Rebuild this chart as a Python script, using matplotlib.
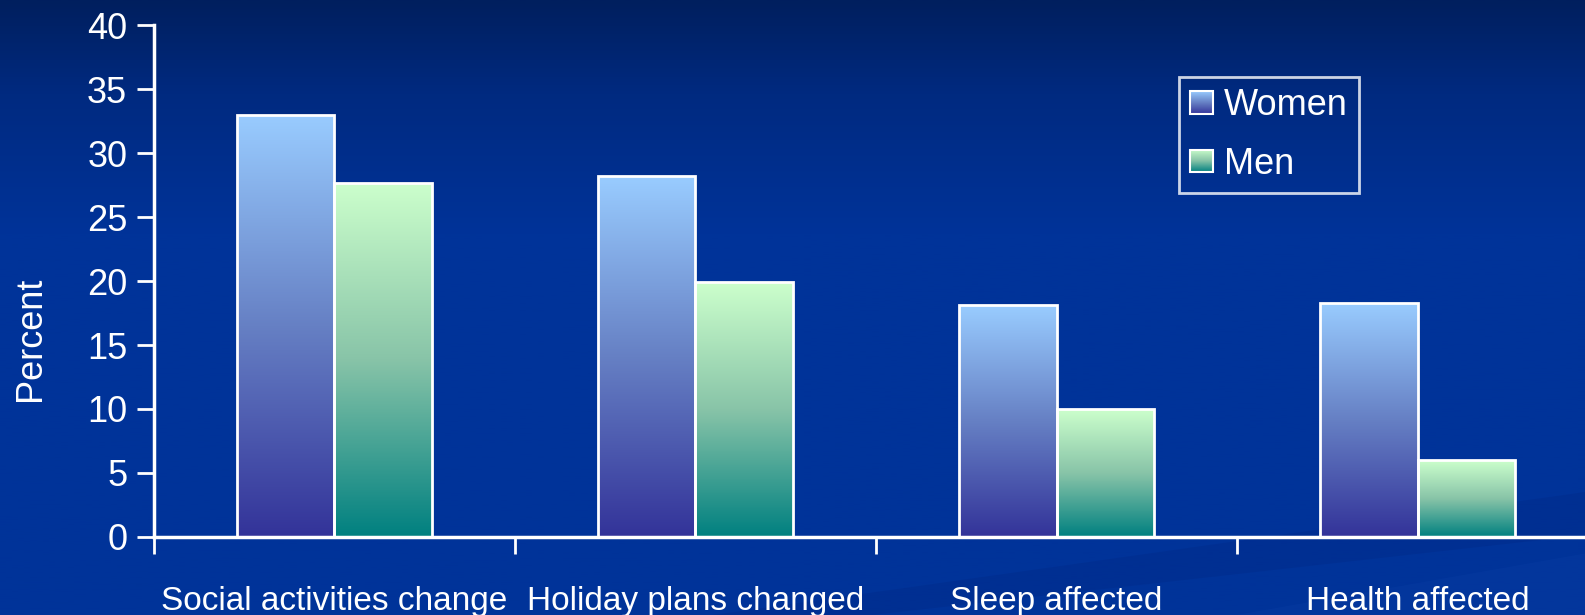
import matplotlib.pyplot as plt
import numpy as np
from matplotlib.colors import LinearSegmentedColormap
from matplotlib.legend_handler import HandlerBase
from matplotlib.image import BboxImage
from matplotlib.patches import Rectangle, Polygon
from matplotlib.transforms import Bbox, TransformedBbox

plt.rcParams['font.family'] = ['Liberation Sans Narrow', 'Liberation Sans', 'DejaVu Sans']

# Share of respondents reporting each effect
categories = ['Social activities change', 'Holiday plans changed', 'Sleep affected', 'Health affected']
women = [33.0, 28.2, 18.1, 18.3]
men = [27.7, 19.9, 10.0, 6.0]
series_names = ['Women', 'Men']

women_cmap = LinearSegmentedColormap.from_list('women', ['#333399', '#6680c4', '#99ccff'])
men_cmap = LinearSegmentedColormap.from_list('men', ['#008080', '#88c4a8', '#ccffcc'])
grad = np.linspace(0, 1, 256).reshape(-1, 1)

fig = plt.figure(figsize=(15.85, 6.15), dpi=100)

# slide-style background: dark navy at the top fading into royal blue
bg = fig.add_axes([0, 0, 1, 1], zorder=-10)
bg_cmap = LinearSegmentedColormap.from_list('bg', [(0, '#003399'), (0.62, '#003399'),
                                                   (0.85, '#002a80'), (1, '#001f5e')])
bg.imshow(grad, cmap=bg_cmap, aspect='auto', extent=[0, 1, 0, 1], origin='lower')
bg.add_patch(Polygon([[0.45, 0], [1, 0.2], [1, 0.13], [0.55, 0]], closed=True,
                     facecolor='#002a88', alpha=0.4, edgecolor='none'))
bg.add_patch(Polygon([[0.78, 0], [1, 0.1], [1, 0.0]], closed=True,
                     facecolor='#0a3fa6', alpha=0.3, edgecolor='none'))
bg.set_xlim(0, 1)
bg.set_ylim(0, 1)
bg.axis('off')

ax = fig.add_axes([0.0969, 0.127, 0.9116, 0.832])
ax.patch.set_alpha(0)

x = np.arange(len(categories))
w = 0.27
bars_w = ax.bar(x - w / 2, women, w, facecolor='none', edgecolor='white', linewidth=2, zorder=3)
bars_m = ax.bar(x + w / 2, men, w, facecolor='none', edgecolor='white', linewidth=2, zorder=3)

# fill every bar with a vertical gradient, light at the top
for bars, cmap in [(bars_w, women_cmap), (bars_m, men_cmap)]:
    for b in bars:
        x0, y0 = b.get_x(), b.get_y()
        im = ax.imshow(grad, cmap=cmap, aspect='auto', origin='lower', zorder=2,
                       extent=[x0, x0 + b.get_width(), y0, y0 + b.get_height()])
        im.set_clip_path(b)

ax.set_xlim(-0.5, 3.5)
ax.set_ylim(0, 40)
ax.set_yticks(range(0, 41, 5))
ax.set_xticks(x)
ax.set_xticklabels(categories)
ax.set_xticks(np.arange(-0.5, 3.6, 1), minor=True)
ax.tick_params(axis='x', which='major', length=0, pad=35, labelsize=24, labelcolor='white')
ax.tick_params(axis='x', which='minor', length=12, width=2, color='white', direction='out')
ax.tick_params(axis='y', length=12, width=2, color='white', pad=7, labelsize=26,
               labelcolor='white', direction='out')
for s in ['top', 'right']:
    ax.spines[s].set_visible(False)
for s in ['left', 'bottom']:
    ax.spines[s].set_color('white')
    ax.spines[s].set_linewidth(2.5)

fig.text(0.0195, 0.449, 'Percent', rotation=90, color='white', fontsize=26,
         ha='center', va='center')


class GradientHandler(HandlerBase):
    def __init__(self, cmap):
        super().__init__()
        self.cmap = cmap

    def create_artists(self, legend, orig_handle, xdescent, ydescent, width, height,
                       fontsize, trans):
        side = height * 0.9
        box = Bbox.from_bounds(-xdescent + (width - side) / 2, -ydescent + (height - side) / 2,
                               side, side)
        img = BboxImage(TransformedBbox(box, trans), cmap=self.cmap, origin='lower')
        img.set_data(grad)
        frame = Rectangle((box.x0, box.y0), side, side, facecolor='none',
                          edgecolor='white', linewidth=1.5, transform=trans)
        return [img, frame]


h1 = Rectangle((0, 0), 1, 1)
h2 = Rectangle((0, 0), 1, 1)
leg = ax.legend([h1, h2], series_names,
                handler_map={h1: GradientHandler(women_cmap), h2: GradientHandler(men_cmap)},
                loc='upper left', bbox_to_anchor=(0.7095, 0.898), fontsize=26,
                frameon=True, fancybox=False, handlelength=0.65, handletextpad=0.3,
                labelspacing=0.65, borderpad=0.3, borderaxespad=0)
leg.get_frame().set_facecolor('none')
leg.get_frame().set_edgecolor('white')
leg.get_frame().set_linewidth(2)
for t in leg.get_texts():
    t.set_color('white')

plt.savefig('out.png', dpi=100)
